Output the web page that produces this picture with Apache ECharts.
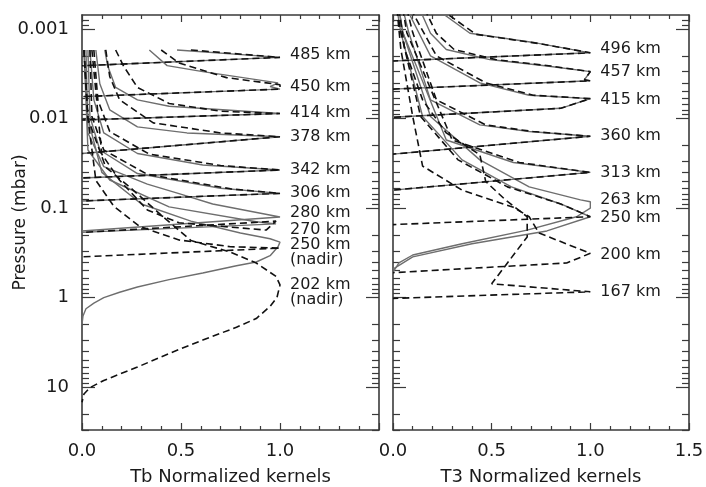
<!DOCTYPE html>
<html><head><meta charset="utf-8">
<script src="https://cdn.jsdelivr.net/npm/echarts@6/dist/echarts.min.js"></script>
<style>html,body{margin:0;padding:0;background:#fff}#c{width:706px;height:487px}</style>
</head><body><div id="c"></div>
<script>
// ---- tick values (pressure, mbar) ----
const majorTicks = [0.001, 0.01, 0.1, 1, 10];
const minorTicks = [0.0008, 0.0009,
  0.002, 0.003, 0.004, 0.005, 0.006, 0.007, 0.008, 0.009,
  0.02, 0.03, 0.04, 0.05, 0.06, 0.07, 0.08, 0.09,
  0.2, 0.3, 0.4, 0.5, 0.6, 0.7, 0.8, 0.9,
  2, 3, 4, 5, 6, 7, 8, 9, 20, 30];

// ---- left panel: Tb normalized kernels [value, pressure] ----
const tb485Solid = [[0.48,0.00172],[1.0,0.00208],[0.0,0.00258]];
const tb485Dash  = [[0.55,0.00172],[1.0,0.00208],[0.0,0.00258]];
const tb450Solid = [[0.34,0.00172],[0.43,0.00257],[0.61,0.0030],[0.99,0.0040],[0.95,0.0044],[1.0,0.0047],[0.0,0.0057]];
const tb450Dash  = [[0.40,0.00172],[0.49,0.0024],[0.73,0.0035],[1.0,0.0042],[1.0,0.0047],[0.0,0.0057]];
const tb414Solid = [[0.115,0.00172],[0.13,0.0026],[0.17,0.0045],[0.28,0.0062],[0.44,0.0073],[1.0,0.0088],[0.0,0.0104]];
const tb414Dash  = [[0.17,0.00172],[0.21,0.0026],[0.28,0.0045],[0.44,0.0068],[0.70,0.0083],[1.0,0.0088],[0.0,0.0104]];
const tb378Solid = [[0.07,0.00172],[0.09,0.0041],[0.14,0.0080],[0.28,0.0124],[0.53,0.0145],[1.0,0.0160],[0.0,0.0246]];
const tb378Dash  = [[0.12,0.00172],[0.14,0.0034],[0.19,0.0062],[0.36,0.0112],[0.70,0.0145],[1.0,0.0160],[0.0,0.0246]];
const tb342Solid = [[0.04,0.00172],[0.06,0.0062],[0.11,0.0145],[0.28,0.0246],[0.61,0.0331],[1.0,0.0376],[0.0,0.0461]];
const tb342Dash  = [[0.06,0.00172],[0.08,0.0062],[0.14,0.0140],[0.34,0.0250],[0.70,0.0335],[1.0,0.0376],[0.0,0.0461]];
const tb306Solid = [[0.03,0.00172],[0.04,0.0095],[0.09,0.0225],[0.28,0.0412],[0.70,0.0600],[1.0,0.0685],[0.0,0.0834]];
const tb306Dash  = [[0.04,0.00172],[0.05,0.0095],[0.11,0.0225],[0.33,0.0420],[0.75,0.0610],[1.0,0.0685],[0.0,0.0834]];
const tb280Solid = [[0.02,0.00172],[0.03,0.0145],[0.11,0.0345],[0.33,0.054],[0.49,0.069],[0.66,0.09],[1.0,0.126],[0.0,0.180]];
const tb280Dash  = [[0.05,0.00172],[0.10,0.025],[0.19,0.049],[0.33,0.105],[0.49,0.146],[0.93,0.176],[0.98,0.140],[0.0,0.187]];
const tb270Solid = [[0.01,0.00172],[0.03,0.0225],[0.14,0.0486],[0.44,0.097],[0.88,0.142],[0.98,0.150],[0.0,0.187]];
const tb250Dash  = [[0.01,0.00172],[0.03,0.010],[0.07,0.049],[0.16,0.095],[0.29,0.16],[0.49,0.227],[0.75,0.27],[1.0,0.28],[0.0,0.35]];
const tb250Solid = [[0.01,0.00172],[0.03,0.010],[0.10,0.04],[0.30,0.09],[0.55,0.14],[0.80,0.19],[0.95,0.22],[1.0,0.24],[0.99,0.27],[0.95,0.34],[0.88,0.40],[0.78,0.44],[0.61,0.53],[0.44,0.63],[0.28,0.76],[0.19,0.87],[0.11,1.0],[0.06,1.15],[0.02,1.33],[0.005,1.6],[0.0,2.0]];
const tb202Dash  = [[0.01,0.00172],[0.03,0.010],[0.12,0.035],[0.24,0.058],[0.40,0.12],[0.55,0.23],[0.75,0.31],[0.88,0.41],[0.98,0.58],[1.0,0.72],[0.985,0.99],[0.95,1.25],[0.88,1.71],[0.78,2.14],[0.61,2.97],[0.44,4.2],[0.28,5.95],[0.11,8.4],[0.04,10.1],[0.01,11.9],[0.0,14.7]];

// ---- right panel: T3 normalized kernels ----
const t496Solid = [[0.22,0.0006],[0.39,0.00112],[0.73,0.00144],[1.0,0.00185],[0.0,0.00228]];
const t496Dash  = [[0.24,0.0006],[0.42,0.00115],[0.75,0.00147],[1.0,0.00185],[0.0,0.00228]];
const t457Solid = [[0.135,0.0006],[0.19,0.00112],[0.27,0.0017],[0.49,0.0022],[0.78,0.0026],[1.0,0.0030],[0.97,0.0037],[1.0,0.0038],[0.0,0.0047]];
const t457Dash  = [[0.16,0.0006],[0.22,0.00112],[0.31,0.0017],[0.52,0.0022],[0.80,0.0026],[1.0,0.0030],[0.97,0.0037],[1.0,0.0038],[0.0,0.0047]];
const t415Solid = [[0.07,0.0006],[0.19,0.0020],[0.44,0.0040],[0.69,0.0055],[1.0,0.0060],[0.85,0.0077],[0.0,0.0097]];
const t415Dash  = [[0.09,0.0006],[0.22,0.0020],[0.47,0.0040],[0.71,0.0055],[1.0,0.0060],[0.85,0.0077],[0.0,0.0097]];
const t360Solid = [[0.05,0.0006],[0.08,0.0011],[0.19,0.0062],[0.44,0.0118],[0.69,0.0140],[1.0,0.0158],[0.0,0.0250]];
const t360Dash  = [[0.07,0.0006],[0.10,0.0011],[0.22,0.0062],[0.47,0.0118],[0.71,0.0140],[1.0,0.0158],[0.0,0.0250]];
const t313Solid = [[0.03,0.0006],[0.05,0.0011],[0.27,0.0174],[0.61,0.031],[1.0,0.040],[0.0,0.063]];
const t313Dash  = [[0.05,0.0006],[0.07,0.0011],[0.30,0.0174],[0.64,0.031],[1.0,0.040],[0.0,0.063]];
const t263Solid = [[0.03,0.0006],[0.05,0.0011],[0.19,0.0095],[0.44,0.029],[0.69,0.058],[0.95,0.081],[1.0,0.085],[1.0,0.10],[0.93,0.125],[0.68,0.176],[0.35,0.25],[0.10,0.334],[0.03,0.41],[0.01,0.48],[0.0,0.52]];
const t250Solid = [[0.02,0.0006],[0.04,0.0011],[0.15,0.0095],[0.35,0.029],[0.60,0.058],[0.85,0.09],[1.0,0.125],[0.78,0.18],[0.40,0.25],[0.10,0.35],[0.0,0.48]];
const t250Dash  = [[0.02,0.0006],[0.04,0.0011],[0.14,0.0095],[0.33,0.029],[0.58,0.058],[0.85,0.09],[1.0,0.125],[0.0,0.153]];
const t200Dash  = [[0.02,0.0006],[0.04,0.0017],[0.10,0.0095],[0.15,0.034],[0.35,0.063],[0.61,0.098],[0.69,0.125],[0.74,0.19],[1.0,0.32],[0.88,0.41],[0.0,0.526]];
const t167Dash  = [[0.03,0.0006],[0.06,0.0017],[0.15,0.0062],[0.27,0.0145],[0.44,0.0254],[0.47,0.0506],[0.57,0.081],[0.68,0.125],[0.68,0.21],[0.50,0.70],[1.0,0.86],[0.0,1.02]];

// ---- altitude labels ----
const leftLabels = ['485 km','450 km','414 km','378 km','342 km','306 km','280 km','270 km','250 km\n(nadir)','202 km\n(nadir)'];
const leftLabelP = [0.00196,0.00446,0.00869,0.0161,0.0376,0.0679,0.1135,0.176,0.313,0.875];
const rightLabels = ['496 km','457 km','415 km','360 km','313 km','263 km','250 km','200 km','167 km'];
const rightLabelP = [0.00167,0.00303,0.00622,0.0157,0.0406,0.0813,0.129,0.334,0.865];

const leftSolid = [tb485Solid,tb450Solid,tb414Solid,tb378Solid,tb342Solid,tb306Solid,tb280Solid,tb270Solid,tb250Solid];
const leftDash  = [tb485Dash,tb450Dash,tb414Dash,tb378Dash,tb342Dash,tb306Dash,tb280Dash,tb250Dash,tb202Dash];
const rightSolid = [t496Solid,t457Solid,t415Solid,t360Solid,t313Solid,t263Solid,t250Solid];
const rightDash  = [t496Dash,t457Dash,t415Dash,t360Dash,t313Dash,t250Dash,t200Dash,t167Dash];

const FONT = 'DejaVu Sans';
const AX = '#3a3a3a';
const TXT = '#1a1a1a';

const grids = [
  {left: 82, top: 15, width: 297, height: 415, outerBoundsMode: 'none', containLabel: false},
  {left: 393, top: 15, width: 296, height: 415, outerBoundsMode: 'none', containLabel: false}
];

function xAxes(g, name, hideMax) {
  const common = {
    type: 'value', gridIndex: g, min: 0, max: 1.5, interval: 0.5,
    splitLine: {show: false}, minorSplitLine: {show: false},
    axisLine: {onZero: false, lineStyle: {color: AX, width: 1.6}},
    axisTick: {inside: true, length: 7, lineStyle: {color: AX, width: 1.2}},
    minorTick: {show: true, splitNumber: 5, length: 4, lineStyle: {color: AX, width: 1.2}}
  };
  return [
    Object.assign({}, common, {
      position: 'bottom', name: name, nameLocation: 'middle', nameGap: 38, nameMoveOverlap: false,
      nameTextStyle: {fontFamily: FONT, fontSize: 18, color: TXT},
      axisLabel: {fontFamily: FONT, fontSize: 18, color: TXT, margin: 12,
        formatter: v => (hideMax && v > 1.4) ? '' : v.toFixed(1)}
    }),
    Object.assign({}, common, {position: 'top', axisLabel: {show: false}})
  ];
}

function yAxes(g, withLabels) {
  const base = {type: 'log', logBase: 10, min: 0.0007, max: 30, inverse: true, gridIndex: g,
    splitLine: {show: false}};
  const ls = {color: AX, width: 1.2};
  return [
    Object.assign({}, base, {position: 'left',
      axisLine: {show: true, onZero: false, lineStyle: {color: AX, width: 1.6}},
      axisTick: {inside: true, length: 13, customValues: majorTicks, lineStyle: ls},
      axisLabel: {show: withLabels, customValues: majorTicks, fontFamily: FONT, fontSize: 18, color: TXT, margin: 13,
        formatter: v => String(+v.toPrecision(3))},
      name: withLabels ? 'Pressure (mbar)' : '', nameLocation: 'middle', nameGap: 53, nameMoveOverlap: false,
      nameTextStyle: {fontFamily: FONT, fontSize: 17, color: TXT}}),
    Object.assign({}, base, {position: 'left',
      axisLine: {show: false, onZero: false},
      axisTick: {inside: true, length: 7, customValues: minorTicks, lineStyle: ls},
      axisLabel: {show: false}}),
    Object.assign({}, base, {position: 'right',
      axisLine: {show: true, onZero: false, lineStyle: {color: AX, width: 1.6}},
      axisTick: {inside: true, length: 13, customValues: majorTicks, lineStyle: ls},
      axisLabel: {show: false}}),
    Object.assign({}, base, {position: 'right',
      axisLine: {show: false, onZero: false},
      axisTick: {inside: true, length: 7, customValues: minorTicks, lineStyle: ls},
      axisLabel: {show: false}})
  ];
}

const series = [];
function addLines(list, g, dashed) {
  list.forEach(d => series.push({
    type: 'line', xAxisIndex: g * 2, yAxisIndex: g * 4, data: d,
    symbol: 'none', silent: true, animation: false, clip: true,
    lineStyle: dashed ? {color: '#111', width: 1.6, type: [7, 4]} : {color: '#6e6e6e', width: 1.4},
    z: dashed ? 3 : 2
  }));
}
addLines(leftSolid, 0, false);
addLines(leftDash, 0, true);
addLines(rightSolid, 1, false);
addLines(rightDash, 1, true);

function addLabels(names, ps, g) {
  series.push({
    type: 'scatter', xAxisIndex: g * 2, yAxisIndex: g * 4, symbolSize: 0, silent: true, animation: false,
    itemStyle: {color: TXT, opacity: 1},
    data: names.map((n, i) => ({value: [1.0, ps[i]], name: n})),
    label: {show: true, position: 'right', distance: 10, formatter: p => p.name, opacity: 1,
      fontFamily: FONT, fontSize: 16, color: TXT, lineHeight: 15, align: 'left'},
    z: 5
  });
}
addLabels(leftLabels, leftLabelP, 0);
addLabels(rightLabels, rightLabelP, 1);

const chart = echarts.init(document.getElementById('c'), null, {renderer: 'canvas'});
chart.setOption({
  animation: false,
  grid: grids,
  xAxis: [].concat(xAxes(0, 'Tb Normalized kernels', true), xAxes(1, 'T3 Normalized kernels', false)),
  yAxis: [].concat(yAxes(0, true), yAxes(1, false)),
  series: series
});
</script></body></html>
